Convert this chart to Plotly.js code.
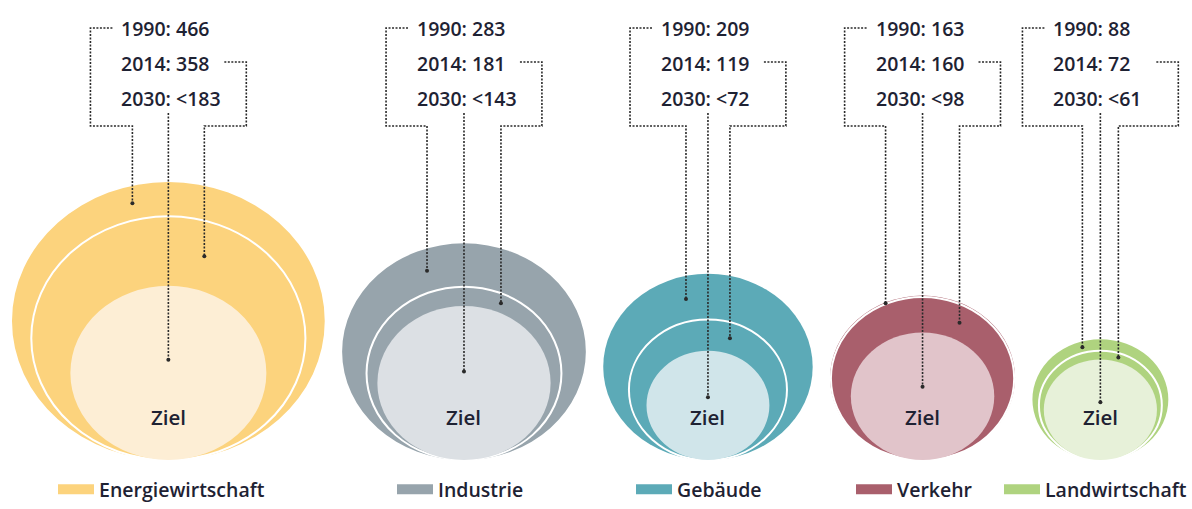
<!DOCTYPE html>
<html><head><meta charset="utf-8">
<script src="https://cdn.plot.ly/plotly-3.0.1.min.js"></script>
<style>html,body{margin:0;padding:0;background:#fff;} #chart{width:1192px;height:509px;}</style>
</head><body><div id="chart"></div>
<script>
// ---------- data ----------
const sectors = ['Energiewirtschaft', 'Industrie', 'Gebäude', 'Verkehr', 'Landwirtschaft'];
const years = ['1990', '2014', '2030'];
const values1990 = [466, 283, 209, 163, 88];
const values2014 = [358, 181, 119, 160, 72];
const target2030 = [183, 143, 72, 98, 61];
const targetPrefix = '&lt;';
const zielLabel = 'Ziel';

// ---------- styles ----------
const outerColors = ['#FCD37D', '#97A4AC', '#5CAAB7', '#A95F6C', '#AFD37F'];
const innerColors = ['#FDEED5', '#DCE0E4', '#D0E5EA', '#E1C4CA', '#E7F1D9'];
const textColor = '#1e2233';
const leaderColor = '#2a2a2a';
const FONT = '"Open Sans", "DejaVu Sans", sans-serif';

// ---------- layout constants (pixels) ----------
const W = 1192, H = 509;
const PX_X = 7.25, PX_Y = 6.44;      // pixels per sqrt(Mt) unit, horizontally / vertically
const BASE_PX = 460;                  // baseline of all circles
const LEFT_PAD_PX = 12, GAP_PX = 17.4;
const dropPx = [36, 37, 22, 37, 18];  // horizontal offset of leader drops
const legendTextLeftPx = [100, 439, 678, 898, 1047];
const LEGEND_ITEMWIDTH = 36;

const ux = px => px / PX_X;
const uy = py => (BASE_PX - py) / PX_Y;

// radius in sqrt units -> area proportional to value
const r1990 = values1990.map(Math.sqrt);
const r2014 = values2014.map(Math.sqrt);
const r2030 = target2030.map(Math.sqrt);

// centres: circles laid out left to right with a constant gap
const centers = [];
let cursor = ux(LEFT_PAD_PX);
r1990.forEach((r) => { centers.push(cursor + r); cursor += 2 * r + ux(GAP_PX); });

function topAt(cx, R, x) { const d = x - cx; return R + Math.sqrt(Math.max(R * R - d * d, 0)); }

const shapes = [];
const annotations = [];
const lx = [], ly = [], dx = [], dy = [];

sectors.forEach((s, i) => {
  const c = centers[i];
  const R0 = r1990[i], R1 = r2014[i], R2 = r2030[i];
  shapes.push({type: 'circle', xref: 'x', yref: 'y', layer: 'below',
    x0: c - R0, x1: c + R0, y0: 0, y1: 2 * R0, fillcolor: outerColors[i], line: {width: 0}});
  shapes.push({type: 'circle', xref: 'x', yref: 'y', layer: 'below',
    x0: c - R1, x1: c + R1, y0: 0, y1: 2 * R1, fillcolor: outerColors[i], line: {color: '#ffffff', width: 2}});
  shapes.push({type: 'circle', xref: 'x', yref: 'y', layer: 'below',
    x0: c - R2, x1: c + R2, y0: 0, y1: 2 * R2, fillcolor: innerColors[i], line: {width: 0}});

  // labels
  const tx = c - ux(49);
  const labels = [
    years[0] + ': ' + values1990[i],
    years[1] + ': ' + values2014[i],
    years[2] + ': ' + targetPrefix + target2030[i]
  ];
  const labelPy = [28, 63, 98];
  labels.forEach((t, k) => annotations.push({
    x: tx, y: uy(labelPy[k]), xref: 'x', yref: 'y', text: t, showarrow: false,
    xanchor: 'left', yanchor: 'middle', font: {family: FONT, size: 19.5, weight: 600, color: textColor}
  }));
  annotations.push({x: c, y: uy(417), xref: 'x', yref: 'y', text: zielLabel, showarrow: false,
    xanchor: 'center', yanchor: 'middle', font: {family: FONT, size: 20.5, weight: 600, color: textColor}});

  // leaders
  const bl = c - ux(78), br = c + ux(78), yb = uy(126);
  const xa = c - ux(dropPx[i]), xb = c + ux(dropPx[i]);
  const e1990 = (topAt(c, R0, xa) + topAt(c, R1, xa)) / 2;
  const e2014 = (topAt(c, R1, xb) + topAt(c, R2, xb)) / 2;
  const e2030 = R2 + 0.15 * R2;
  lx.push(bl + ux(22), bl, bl, xa, xa, null); ly.push(uy(28), uy(28), yb, yb, e1990, null);
  lx.push(br - ux(22), br, br, xb, xb, null); ly.push(uy(62), uy(62), yb, yb, e2014, null);
  lx.push(c, c, null); ly.push(uy(113), e2030, null);
  dx.push(xa, xb, c); dy.push(e1990, e2014, e2030);
});

const traces = [
  {type: 'scatter', mode: 'lines', x: lx, y: ly, showlegend: false, hoverinfo: 'skip',
   line: {color: leaderColor, width: 1.6, dash: '2px,1.5px'}},
  {type: 'scatter', mode: 'markers', x: dx, y: dy, showlegend: false, hoverinfo: 'skip',
   marker: {color: leaderColor, size: 4}}
];

const layout = {
  width: W, height: H, margin: {l: 0, r: 0, t: 0, b: 0},
  paper_bgcolor: '#ffffff', plot_bgcolor: '#ffffff',
  xaxis: {range: [0, ux(W)], visible: false, fixedrange: true},
  yaxis: {range: [uy(H), uy(0)], visible: false, fixedrange: true},
  shapes: shapes, annotations: annotations
};

sectors.forEach((s, i) => {
  const key = i === 0 ? 'legend' : 'legend' + (i + 1);
  traces.push({type: 'scatter', mode: 'lines', x: [null], y: [null], name: s,
    legend: key, showlegend: true, line: {color: outerColors[i], width: 10}});
  layout[key] = {x: (legendTextLeftPx[i] - LEGEND_ITEMWIDTH - 11) / W,
    y: 0, xanchor: 'left', yanchor: 'bottom',
    orientation: 'h', bgcolor: 'rgba(0,0,0,0)', borderwidth: 0, itemwidth: LEGEND_ITEMWIDTH,
    font: {family: FONT, size: 19.5, weight: 600, color: textColor}};
});

Plotly.newPlot('chart', traces, layout, {staticPlot: true, displayModeBar: false});
</script>
</body></html>
